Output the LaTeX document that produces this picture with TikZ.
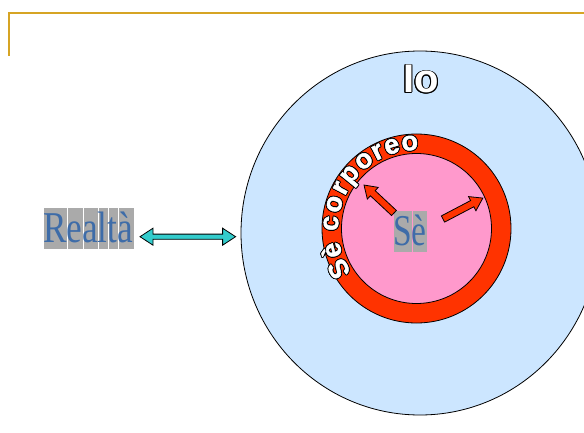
\documentclass[tikz,border=0pt]{standalone}
\usepackage{fontspec}
\usepackage{graphicx}
\usetikzlibrary{shapes.geometric,calc}
\setmainfont{Liberation Serif}
\newfontfamily\labelsans{Liberation Sans}
\newfontfamily\ringsans{Liberation Sans}[BoldFeatures={FakeBold=1.6}]

\definecolor{framegold}{RGB}{214,164,36}
\definecolor{iofill}{RGB}{204,230,255}
\definecolor{bodyred}{RGB}{255,51,0}
\definecolor{sepink}{RGB}{255,153,204}
\definecolor{linkteal}{RGB}{51,204,204}
\definecolor{wordblue}{RGB}{62,108,168}
\definecolor{shadegray}{RGB}{170,170,170}

% letter set on its own grey block
\newcommand\gl[1]{\setbox0=\hbox{#1}\rlap{\hspace*{1.5pt}\textcolor{shadegray}{\rule[-7pt]{\dimexpr\wd0-0.8pt\relax}{41pt}}}\box0}
% white letters with a black outline
\newcommand\outl[1]{\leavevmode
  \foreach \a in {0,30,...,330}{\rlap{\hspace*{\fpeval{0.85*cosd(\a)}pt}\raisebox{\fpeval{0.85*sind(\a)}pt}{\textcolor{black}{#1}}}}%
  \textcolor{white}{#1}}

\tikzset{
  thinline/.style={draw=black, line width=0.8pt},
  wordart/.style={inner sep=0pt, text=wordblue, font=\fontsize{44}{44}\selectfont},
  ringletter/.style={inner sep=0pt, anchor=base, font=\ringsans\bfseries\fontsize{27}{27}\selectfont},
  arrowbody/.style={thinline, fill=bodyred, line join=miter},
  pics/blockarrow/.style={code={
    \draw[arrowbody] (0,-3.5) -- (#1-12,-3.5) -- (#1-12,-8) -- (#1,0)
      -- (#1-12,8) -- (#1-12,3.5) -- (0,3.5) -- cycle;}},
}

\begin{document}
\begin{tikzpicture}[x=1pt, y=1pt]
\useasboundingbox (0,0) rectangle (584,432);
\clip (0,0) rectangle (584,432);

% slide frame
\draw[framegold, line width=1.3pt] (9,376) -- (9,419) -- (584,419);

% Io
\node[ellipse, thinline, fill=iofill, minimum width=358pt, minimum height=364pt, inner sep=0pt] (io) at (420,199) {};
\node[anchor=base, inner sep=0pt, font=\labelsans\bfseries\fontsize{40}{40}\selectfont] (iolabel) at (421,339) {\outl{Io}};

% bodily self ring and self
\node[circle, thinline, fill=bodyred, minimum size=189pt, inner sep=0pt] (body) at (416.5,203.5) {};
\node[circle, thinline, fill=sepink, minimum size=150pt, inner sep=0pt] (se) at (416.5,203.5) {};

% curved label on the ring, one letter at a time
\foreach \ch/\ang [count=\i] in {S/207.5, è/194.5, c/176.5, o/163.5, r/152.0,
    p/141.0, o/127.8, r/116.9, e/106.7, o/94.5}{
  \node[ringletter, rotate=\ang-90] (corp\i) at ($(body.center)+(\ang:78.5pt)$) {\outl{\ch}};
}

% self label and outward arrows
\node[wordart, anchor=base] (selabel) at (410,187) {\scalebox{0.76}[1]{\gl{S}\gl{è}}};
\pic[rotate=137] at (394,219) {blockarrow=41};
\pic[rotate=27.7] at (443,213) {blockarrow=45};

% reality and its two-way link to Io
\node[wordart, anchor=base west] (realta) at (43,190) {\scalebox{0.8}[1]{\gl{R}\gl{e}\gl{a}\gl{l}\gl{t}\gl{à}}};
\coordinate (ra) at (140,195.3);
\coordinate (rb) at ([xshift=-5pt, yshift=-3.7pt]io.west);
\draw[thinline, fill=linkteal, line join=miter] let \p1=(ra), \p2=(rb) in
  (\x1,\y1) -- (\x1+13pt,\y1+8.5pt) -- (\x1+13pt,\y1+2.6pt) -- (\x2-13pt,\y1+2.6pt)
  -- (\x2-13pt,\y1+8.5pt) -- (\x2,\y1) -- (\x2-13pt,\y1-8.5pt) -- (\x2-13pt,\y1-2.6pt)
  -- (\x1+13pt,\y1-2.6pt) -- (\x1+13pt,\y1-8.5pt) -- cycle;
\end{tikzpicture}
\end{document}
